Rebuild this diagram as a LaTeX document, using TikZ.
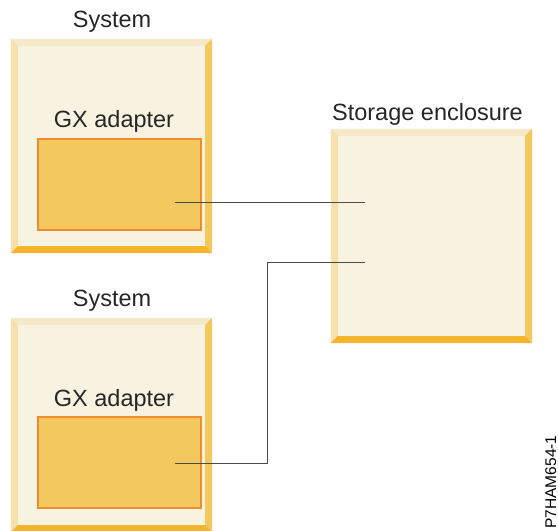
\documentclass[tikz,border=0pt]{standalone}
\usepackage{fontspec}
\setmainfont{Liberation Sans}
\definecolor{cream}{HTML}{F8F2E1}
\definecolor{bvtop}{HTML}{F6E9C9}
\definecolor{bvleft}{HTML}{F6E0AB}
\definecolor{bvright}{HTML}{F4C95C}
\definecolor{bvbottom}{HTML}{F4B42C}
\definecolor{gxfill}{HTML}{F3C95F}
\definecolor{gxline}{HTML}{F08C2E}
\definecolor{wire}{HTML}{4A4A4A}
\newcommand\bevelbox[1]{%
 \fill[bvtop] (#1.north west) -- (#1.north east) -- ([shift={(-7,-7)}]#1.north east) -- ([shift={(7,-7)}]#1.north west) -- cycle;
 \fill[bvleft] (#1.north west) -- ([shift={(7,-7)}]#1.north west) -- ([shift={(7,7)}]#1.south west) -- (#1.south west) -- cycle;
 \fill[bvright] (#1.north east) -- (#1.south east) -- ([shift={(-7,7)}]#1.south east) -- ([shift={(-7,-7)}]#1.north east) -- cycle;
 \fill[bvbottom] (#1.south west) -- ([shift={(7,7)}]#1.south west) -- ([shift={(-7,7)}]#1.south east) -- (#1.south east) -- cycle;
}
\begin{document}
\begin{tikzpicture}[x=1pt,y=1pt,
  outerbox/.style={rectangle,fill=cream,draw=none,inner sep=0pt,minimum width=201pt,minimum height=214pt},
  gxbox/.style={rectangle,fill=gxfill,draw=gxline,line width=2pt,inner sep=0pt,minimum width=163pt,minimum height=91pt},
  lbl/.style={anchor=base,font=\fontsize{23.5}{26}\selectfont,text=black!85,inner sep=0pt},
  wireline/.style={draw=wire,line width=1pt}]
\useasboundingbox (0,0) rectangle (558,531);
% boxes
\node[outerbox] (sys1) at (111.5,385) {};
\node[outerbox] (sys2) at (111.5,106) {};
\node[outerbox] (encl) at (431.5,295) {};
\bevelbox{sys1}
\bevelbox{sys2}
\bevelbox{encl}
\node[gxbox] (gx1) at (119.5,346.5) {};
\node[gxbox] (gx2) at (119.5,68.5) {};
% labels
\node[lbl] (t1) at (112,503) {System};
\node[lbl] (t2) at (114,403) {GX adapter};
\node[lbl] (t3) at (112,224) {System};
\node[lbl] (t4) at (114,124) {GX adapter};
\node[lbl] (t5) at (427.5,410) {Storage enclosure};
\node[anchor=base,rotate=90,font=\fontsize{15.5}{17}\selectfont,inner sep=0pt] (fig) at (556,49) {P7HAM654-1};
% connectors
\coordinate (p1) at (175,328);
\coordinate (q1) at (365,328);
\coordinate (p2) at (175,67);
\coordinate (q2) at (365,268);
\draw[wireline] (p1) -- (q1);
\draw[wireline] (p2) -- (267,67) -- (267,268) -- (q2);
\end{tikzpicture}
\end{document}
